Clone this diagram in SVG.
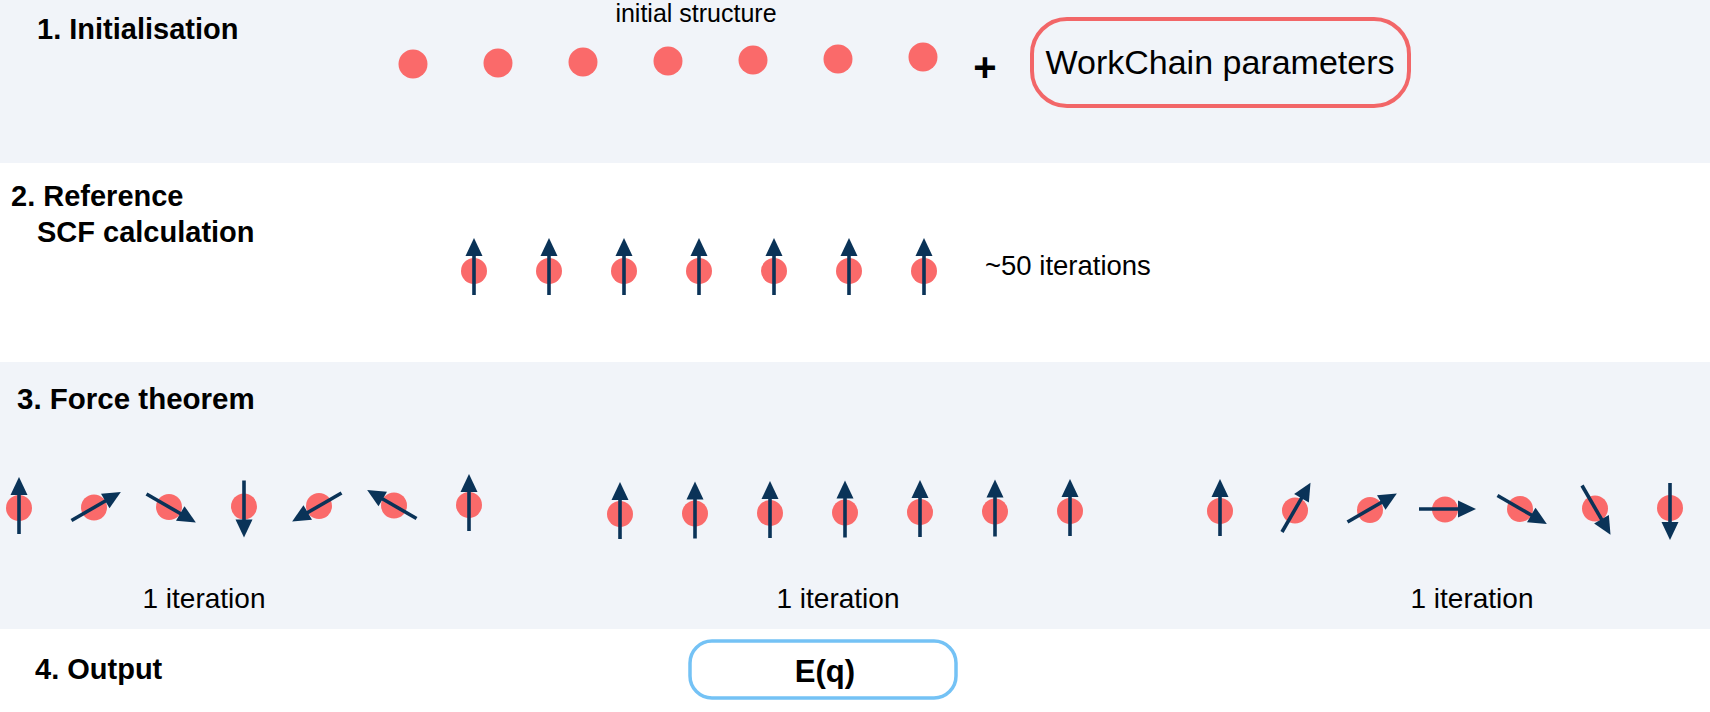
<svg xmlns="http://www.w3.org/2000/svg" xmlns:xlink="http://www.w3.org/1999/xlink" width="1710" height="712" viewBox="0 0 1710 712">
<style>
.band{fill:#f1f4f9}
.h{font-family:"Liberation Sans",Arial,sans-serif;font-weight:bold;font-size:29px;fill:#000}
.t{font-family:"Liberation Sans",Arial,sans-serif;font-size:28px;fill:#000}
.atom{fill:#fa6a6a}
.box{fill:none;stroke-width:4}
</style>
<defs>
<g id="spin">
<line x1="0" y1="26" x2="0" y2="-14" stroke="#0a3358" stroke-width="3.6"/>
<polygon points="0,-31 -8.5,-13 8.5,-13" fill="#0a3358"/>
</g>
</defs>
<rect class="band" x="0" y="0" width="1710" height="163"/>
<rect x="0" y="163" width="1710" height="199" fill="#fff"/>
<rect class="band" x="0" y="362" width="1710" height="267"/>
<rect x="0" y="629" width="1710" height="83" fill="#fff"/>

<g id="step1">
<text class="h" x="37" y="39">1. Initialisation</text>
<text class="t" x="696" y="22" text-anchor="middle" style="font-size:25px">initial structure</text>
<g id="structure">
<circle class="atom" cx="413" cy="64" r="14.5"/>
<circle class="atom" cx="498" cy="63" r="14.5"/>
<circle class="atom" cx="583" cy="62" r="14.5"/>
<circle class="atom" cx="668" cy="61" r="14.5"/>
<circle class="atom" cx="753" cy="60" r="14.5"/>
<circle class="atom" cx="838" cy="59" r="14.5"/>
<circle class="atom" cx="923" cy="57" r="14.5"/>
</g>
<text class="h" x="985" y="81" text-anchor="middle" style="font-size:40px">+</text>
<g id="workchain">
<rect class="box" x="1032" y="19" width="377" height="87" rx="35" stroke="#f26668"/>
<text class="t" x="1220" y="74" text-anchor="middle" style="font-size:34px">WorkChain parameters</text>
</g>
</g>

<g id="step2">
<text class="h" x="11" y="206">2. Reference</text>
<text class="h" x="37" y="242">SCF calculation</text>
<g id="scf">
<circle class="atom" cx="474" cy="271" r="13"/>
<circle class="atom" cx="549" cy="271" r="13"/>
<circle class="atom" cx="624" cy="271" r="13"/>
<circle class="atom" cx="699" cy="271" r="13"/>
<circle class="atom" cx="774" cy="271" r="13"/>
<circle class="atom" cx="849" cy="271" r="13"/>
<circle class="atom" cx="924" cy="271" r="13"/>
<use xlink:href="#spin" transform="translate(474,269)"/>
<use xlink:href="#spin" transform="translate(549,269)"/>
<use xlink:href="#spin" transform="translate(624,269)"/>
<use xlink:href="#spin" transform="translate(699,269)"/>
<use xlink:href="#spin" transform="translate(774,269)"/>
<use xlink:href="#spin" transform="translate(849,269)"/>
<use xlink:href="#spin" transform="translate(924,269)"/>
</g>
<text class="t" x="985" y="275" style="font-size:27.5px">~50 iterations</text>
</g>

<g id="step3">
<text class="h" x="17" y="409" style="font-size:29.5px">3. Force theorem</text>
<g id="spiral60">
<circle class="atom" cx="19" cy="508" r="13"/>
<circle class="atom" cx="94" cy="507.5" r="13"/>
<circle class="atom" cx="169" cy="507" r="13"/>
<circle class="atom" cx="244" cy="506.5" r="13"/>
<circle class="atom" cx="319" cy="506" r="13"/>
<circle class="atom" cx="394" cy="505.5" r="13"/>
<circle class="atom" cx="469" cy="505" r="13"/>
<use xlink:href="#spin" transform="translate(19,508) rotate(0)"/>
<use xlink:href="#spin" transform="translate(94,507.5) rotate(60)"/>
<use xlink:href="#spin" transform="translate(169,507) rotate(120)"/>
<use xlink:href="#spin" transform="translate(244,506.5) rotate(180)"/>
<use xlink:href="#spin" transform="translate(319,506) rotate(240)"/>
<use xlink:href="#spin" transform="translate(394,505.5) rotate(300)"/>
<use xlink:href="#spin" transform="translate(469,505) rotate(360)"/>
<text class="t" x="204" y="608" text-anchor="middle">1 iteration</text>
</g>
<g id="ferro">
<circle class="atom" cx="620" cy="514" r="13"/>
<circle class="atom" cx="695" cy="513.5" r="13"/>
<circle class="atom" cx="770" cy="513" r="13"/>
<circle class="atom" cx="845" cy="512.5" r="13"/>
<circle class="atom" cx="920" cy="512" r="13"/>
<circle class="atom" cx="995" cy="511.5" r="13"/>
<circle class="atom" cx="1070" cy="511" r="13"/>
<use xlink:href="#spin" transform="translate(620,513)"/>
<use xlink:href="#spin" transform="translate(695,512.5)"/>
<use xlink:href="#spin" transform="translate(770,512)"/>
<use xlink:href="#spin" transform="translate(845,511.5)"/>
<use xlink:href="#spin" transform="translate(920,511)"/>
<use xlink:href="#spin" transform="translate(995,510.5)"/>
<use xlink:href="#spin" transform="translate(1070,510)"/>
<text class="t" x="838" y="608" text-anchor="middle">1 iteration</text>
</g>
<g id="spiral30">
<circle class="atom" cx="1220" cy="511" r="13"/>
<circle class="atom" cx="1295" cy="510.5" r="13"/>
<circle class="atom" cx="1370" cy="510" r="13"/>
<circle class="atom" cx="1445" cy="509.5" r="13"/>
<circle class="atom" cx="1520" cy="509" r="13"/>
<circle class="atom" cx="1595" cy="508.5" r="13"/>
<circle class="atom" cx="1670" cy="508" r="13"/>
<use xlink:href="#spin" transform="translate(1220,510) rotate(0)"/>
<use xlink:href="#spin" transform="translate(1295,509.5) rotate(30)"/>
<use xlink:href="#spin" transform="translate(1370,509) rotate(60)"/>
<use xlink:href="#spin" transform="translate(1445,509) rotate(90)"/>
<use xlink:href="#spin" transform="translate(1520,508.5) rotate(120)"/>
<use xlink:href="#spin" transform="translate(1595,508) rotate(150)"/>
<use xlink:href="#spin" transform="translate(1670,509) rotate(180)"/>
<text class="t" x="1472" y="608" text-anchor="middle">1 iteration</text>
</g>
</g>

<g id="step4">
<text class="h" x="35" y="679">4. Output</text>
<g id="output">
<rect class="box" x="690" y="641" width="266" height="57" rx="22" stroke="#74c2f5" style="stroke-width:3.5"/>
<text class="h" x="825" y="682" text-anchor="middle" style="font-size:31px">E(q)</text>
</g>
</g>
</svg>
